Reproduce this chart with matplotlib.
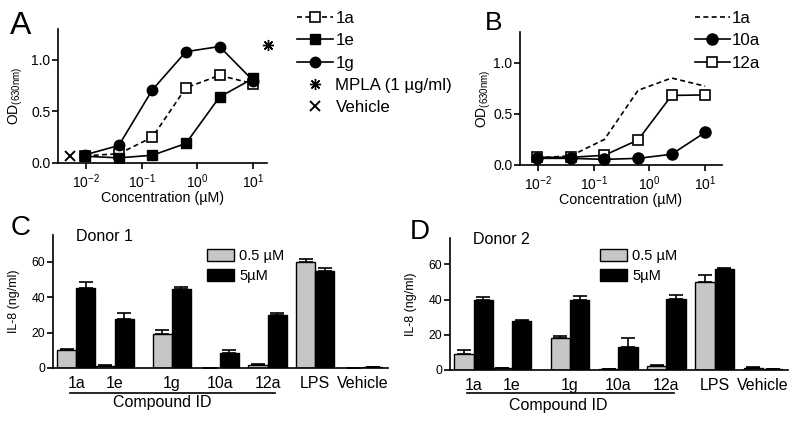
import numpy as np
import matplotlib
matplotlib.use('Agg')
import matplotlib.pyplot as plt
from matplotlib.lines import Line2D
from matplotlib.patches import Patch
from matplotlib.ticker import NullLocator, FixedLocator, FixedFormatter
import matplotlib.transforms as mtransforms

plt.rcParams['font.family'] = ['Liberation Sans', 'DejaVu Sans']
plt.rcParams['mathtext.fontset'] = 'custom'
plt.rcParams['mathtext.rm'] = 'Liberation Sans'
plt.rcParams['mathtext.it'] = 'Liberation Sans:italic'
plt.rcParams['mathtext.bf'] = 'Liberation Sans:bold'

# ---------------- data ----------------
conc = [0.0098, 0.039, 0.156, 0.625, 2.5, 10]
od_1a = [0.07, 0.09, 0.25, 0.73, 0.85, 0.77]
od_1e = [0.065, 0.05, 0.075, 0.19, 0.64, 0.82]
od_1g = [0.08, 0.17, 0.71, 1.08, 1.13, 0.80]
od_10a = [0.065, 0.065, 0.055, 0.065, 0.105, 0.32]
od_12a = [0.075, 0.075, 0.095, 0.245, 0.68, 0.685]
mpla_conc = [18.5]
mpla_od = [1.14]
vehicle_conc = [0.0051]
vehicle_od = [0.065]

compounds = ['1a', '1e', '1g', '10a', '12a', 'LPS', 'Vehicle']
d1_low = [10.0, 1.3, 19.4, 0.0, 1.8, 59.6, 0.2]
d1_low_err = [0.5, 0.3, 1.8, 0.0, 0.3, 2.0, 0.0]
d1_high = [45.2, 27.8, 44.6, 8.5, 30.1, 54.6, 0.3]
d1_high_err = [3.3, 3.3, 1.0, 1.8, 1.1, 1.6, 0.0]
d2_low = [9.3, 1.3, 18.1, 0.4, 2.3, 50.0, 1.0]
d2_low_err = [1.8, 0.1, 1.3, 0.1, 0.6, 4.0, 0.6]
d2_high = [40.0, 28.0, 40.0, 12.8, 40.4, 57.5, 0.3]
d2_high_err = [1.4, 0.2, 1.8, 5.3, 2.0, 0.5, 0.0]

# layout (group centres, in bar-width units)
group_pos = [0, 2, 5, 7.5, 10, 12.5, 15]

GRAY = '#c6c6c6'
W, H = 800, 425
fig = plt.figure(figsize=(8, 4.25), dpi=100)


def px_axes(l, t, r, b):
    return fig.add_axes([l / W, 1 - b / H, (r - l) / W, (b - t) / H])


def style(ax, labelsize):
    for s in ['top', 'right']:
        ax.spines[s].set_visible(False)
    for s in ['left', 'bottom']:
        ax.spines[s].set_linewidth(1.2)
    ax.tick_params(direction='out', length=4, width=1.2, labelsize=labelsize, pad=1.5)


axA = px_axes(58, 29, 267, 163)
axB = px_axes(520, 32, 722, 165)
axC = px_axes(53, 235, 388, 368)
axD = px_axes(450, 238, 788, 370)

dash = (0, (3, 2))
LW = 1.2


def log_axis(ax, xmin, xmax, ylab_x):
    ax.set_xscale('log')
    ax.set_xlim(xmin, xmax)
    ax.set_ylim(0, 1.3)
    ax.xaxis.set_major_locator(FixedLocator([1e-2, 1e-1, 1e0, 1e1]))
    ax.xaxis.set_major_formatter(FixedFormatter([r'$\mathregular{10^{-2}}$', r'$\mathregular{10^{-1}}$',
                                                 r'$\mathregular{10^{0}}$', r'$\mathregular{10^{1}}$']))
    ax.xaxis.set_minor_locator(NullLocator())
    ax.set_yticks([0, 0.5, 1.0])
    ax.set_yticklabels(['0.0', '0.5', '1.0'])
    style(ax, 10)
    ax.tick_params(axis='x', pad=3)
    ax.text(ylab_x, 0.5, r'OD$_{\mathregular{(630nm)}}$', transform=ax.transAxes,
            rotation=90, ha='center', va='center', fontsize=10)
    ax.set_xlabel('Concentration (µM)', fontsize=10.3, labelpad=0)


LEG = dict(bbox_transform=fig.transFigure, frameon=False, fontsize=12.2, borderpad=0, borderaxespad=0,
           handletextpad=0.12, labelspacing=0.43, numpoints=1, loc='upper left')

# ---------------- Panel A ----------------
log_axis(axA, 10 ** -2.5, 10 ** 1.25, -0.2)
l1a, = axA.plot(conc, od_1a, ls=dash, color='k', lw=LW, marker='s', mfc='white', mec='k', mew=1.2, ms=7, label='1a')
l1g, = axA.plot(conc, od_1g, ls='-', color='k', lw=LW, marker='o', mfc='k', mec='k', ms=7.5, label='1g')
l1e, = axA.plot(conc, od_1e, ls='-', color='k', lw=LW, marker='s', mfc='k', mec='k', ms=7, label='1e')
lm, = axA.plot(mpla_conc, mpla_od, ls='none', marker=(8, 2, 0), color='k', ms=8, mew=1.0,
               label='MPLA (1 µg/ml)', clip_on=False)
lv, = axA.plot(vehicle_conc, vehicle_od, ls='none', marker='x', color='k', ms=7, mew=1.4, label='Vehicle',
               clip_on=False)
axA.legend(handles=[l1a, l1e, l1g, lm, lv], bbox_to_anchor=(297 / W, 1 - 11 / H), handlelength=2.15, **LEG)

# ---------------- Panel B ----------------
log_axis(axB, 10 ** -2.32, 10 ** 1.3, -0.18)
b1a, = axB.plot(conc, od_1a, ls=dash, color='k', lw=LW, label='1a')
b12, = axB.plot(conc, od_12a, ls='-', color='k', lw=LW, marker='s', mfc='white', mec='k', mew=1.2, ms=7.5,
                label='12a')
b10, = axB.plot(conc, od_10a, ls='-', color='k', lw=LW, marker='o', mfc='k', mec='k', ms=8, label='10a')
axB.legend(handles=[b1a, b10, b12], bbox_to_anchor=(695 / W, 1 - 11 / H), handlelength=2.05, **LEG)


# ---------------- Panels C / D ----------------
def bar_panel(ax, low, low_err, high, high_err, donor, line_y, text_y, text_x, leg_xy):
    x = np.array(group_pos, dtype=float)
    zeros = np.zeros(len(x))
    ekw = dict(elinewidth=1.2, capthick=1.2, ecolor='k')
    ax.bar(x - 0.5, low, width=1.0, color=GRAY, edgecolor='k', linewidth=1.0,
           yerr=[zeros, low_err], capsize=5, error_kw=ekw)
    ax.bar(x + 0.5, high, width=1.0, color='k', edgecolor='k', linewidth=1.0,
           yerr=[zeros, high_err], capsize=5, error_kw=ekw)
    ax.set_xlim(-1.22, 16.3)
    ax.set_ylim(0, 75)
    ax.set_yticks([0, 20, 40, 60])
    style(ax, 8.8)
    ax.set_xticks(x)
    ax.set_xticklabels(compounds, fontsize=11.5)
    ax.tick_params(axis='x', length=0, pad=5.5)
    ax.text(-0.115, 0.5, 'IL-8 (ng/ml)', transform=ax.transAxes, rotation=90, ha='center', va='center',
            fontsize=9)
    trans = mtransforms.blended_transform_factory(ax.transData, ax.transAxes)
    ax.plot([-0.35, 10.4], [line_y, line_y], transform=trans, color='k', lw=1.2, clip_on=False)
    ax.text(text_x, text_y, 'Compound ID', transform=trans, ha='center', va='center', fontsize=11.5)
    ax.text(0.068, 0.985, donor, transform=ax.transAxes, ha='left', va='center', fontsize=11.5)
    handles = [Patch(facecolor=GRAY, edgecolor='k', linewidth=1.0, label='0.5 µM'),
               Patch(facecolor='k', edgecolor='k', linewidth=1.0, label='5µM')]
    ax.legend(handles=handles, loc='upper left', bbox_to_anchor=(leg_xy[0] / W, 1 - leg_xy[1] / H),
              bbox_transform=fig.transFigure, frameon=False, fontsize=10.5, borderpad=0, borderaxespad=0,
              handlelength=1.85, handleheight=0.9, handletextpad=0.35, labelspacing=0.38)


bar_panel(axC, d1_low, d1_low_err, d1_high, d1_high_err, 'Donor 1', -0.186, -0.262, 4.47, (207, 249))
bar_panel(axD, d2_low, d2_low_err, d2_high, d2_high_err, 'Donor 2', -0.172, -0.272, 4.4, (600, 249))

# panel letters
fig.text(21 / W, 1 - 26 / H, 'A', fontsize=23, ha='center', va='center')
fig.text(494 / W, 1 - 23 / H, 'B', fontsize=19, ha='center', va='center')
fig.text(21 / W, 1 - 228 / H, 'C', fontsize=20, ha='center', va='center')
fig.text(420 / W, 1 - 232 / H, 'D', fontsize=20, ha='center', va='center')

fig.savefig('out.png', dpi=100)
